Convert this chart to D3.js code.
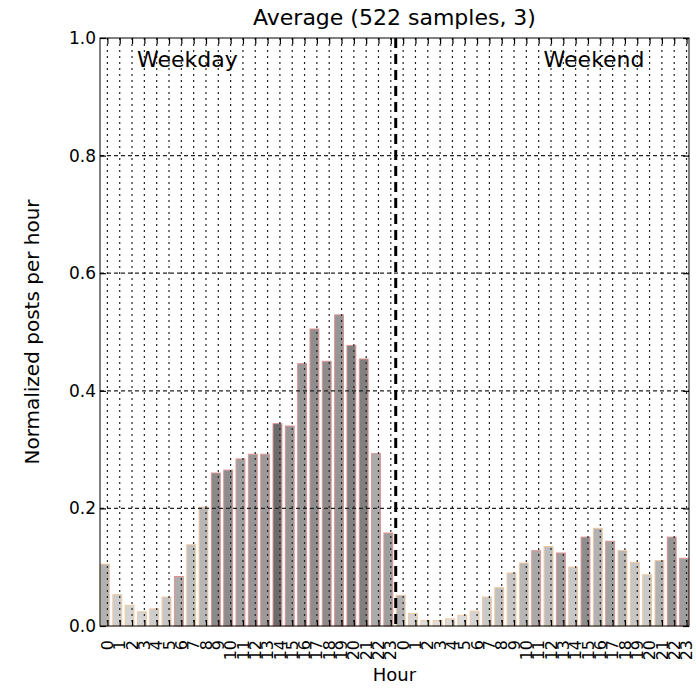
<!DOCTYPE html>
<html><head><meta charset="utf-8">
<script src="https://cdn.jsdelivr.net/npm/d3@7/dist/d3.min.js"></script>
<style>
body{margin:0;background:#fff}
text{font-family:"DejaVu Sans",sans-serif;fill:#000}
</style>
</head><body>
<svg id="chart" width="696" height="693"></svg>
<script>
// ---- data ----
const hourLabels = ["0","1","2","3","4","5","6","7","8","9","10","11","12","13","14","15","16","17","18","19","20","21","22","23"];
const weekdayValues = [0.106,0.054,0.036,0.025,0.030,0.050,0.085,0.139,0.203,0.261,0.266,0.285,0.293,0.293,0.345,0.341,0.447,0.506,0.451,0.530,0.478,0.455,0.294,0.159];
const weekendValues = [0.053,0.022,0.010,0.010,0.013,0.019,0.026,0.050,0.066,0.091,0.108,0.129,0.136,0.125,0.101,0.152,0.167,0.145,0.129,0.109,0.088,0.112,0.152,0.116];
const yTickValues = [0.0,0.2,0.4,0.6,0.8,1.0];
const panelLabels = ["Weekday","Weekend"];
const titleText = "Average (522 samples, 3)";
const xAxisLabel = "Hour";
const yAxisLabel = "Normalized posts per hour";
// grey level of each bar's fill (palette, weekday then weekend)
const weekdayGreys = [178,205,212,212,205,198,172,190,182,138,140,160,150,155,108,150,150,142,140,150,128,128,170,158];
const weekendGreys = [178,212,222,222,218,218,212,202,192,198,182,168,188,158,198,142,178,162,182,198,202,178,148,158];

// ---- layout ----
const svg = d3.select("#chart");
const L = 100, R = 689, T = 38, B = 626;
const nBars = weekdayValues.length + weekendValues.length;
const barW = 0.8, tickOff = 0.6;
const x = d3.scaleLinear().domain([0, nBars - 1 + barW]).range([L, R]);
const y = d3.scaleLinear().domain([0, 1]).range([B, T]);

const bars = weekdayValues.map((v, i) => ({v, i, g: weekdayGreys[i], lab: hourLabels[i]}))
  .concat(weekendValues.map((v, i) => ({v, i: i + weekdayValues.length, g: weekendGreys[i], lab: hourLabels[i]})));

const edgeOf = g => g < 175 ? "#dc9494" : "#ecc9a2";

// bars
svg.append("g").selectAll("rect").data(bars).join("rect")
  .attr("x", d => x(d.i) + 0.5)
  .attr("width", d => x(d.i + barW) - x(d.i) - 1)
  .attr("y", d => y(d.v) + 0.5)
  .attr("height", d => y(0) - y(d.v) - 0.5)
  .attr("fill", d => d3.rgb(d.g, d.g, d.g))
  .attr("stroke", d => edgeOf(d.g))
  .attr("stroke-width", 1);

// grid (drawn above bars)
const grid = svg.append("g");
grid.selectAll("line.v").data(bars).join("line")
  .attr("x1", d => x(d.i + tickOff)).attr("x2", d => x(d.i + tickOff))
  .attr("y1", T).attr("y2", B)
  .attr("stroke", "#222").attr("stroke-width", 1.2).attr("stroke-dasharray", "2,4");
grid.selectAll("line.h").data(yTickValues.slice(1, -1)).join("line")
  .attr("x1", L).attr("x2", R)
  .attr("y1", d => y(d)).attr("y2", d => y(d))
  .attr("stroke", "#222").attr("stroke-width", 1.2).attr("stroke-dasharray", "4,3");

// separator between weekday and weekend
svg.append("line")
  .attr("x1", x(weekdayValues.length)).attr("x2", x(weekdayValues.length))
  .attr("y1", T).attr("y2", B)
  .attr("stroke", "#000").attr("stroke-width", 3).attr("stroke-dasharray", "10,6");

// frame
svg.append("rect").attr("x", L).attr("y", T).attr("width", R - L).attr("height", B - T)
  .attr("fill", "none").attr("stroke", "#000").attr("stroke-width", 1);

// axes via d3
const xTicks = bars.map(d => d.i + tickOff);
const xAxisB = d3.axisBottom(x).tickValues(xTicks).tickSize(-6).tickFormat("");
const xAxisT = d3.axisTop(x).tickValues(xTicks).tickSize(-6).tickFormat("");
svg.append("g").attr("transform", `translate(0,${B})`).call(xAxisB).call(g => g.select(".domain").remove());
svg.append("g").attr("transform", `translate(0,${T})`).call(xAxisT).call(g => g.select(".domain").remove());
const yAxisL = d3.axisLeft(y).tickValues(yTickValues).tickSize(-6).tickFormat(d3.format(".1f")).tickPadding(4);
const yAxisR = d3.axisRight(y).tickValues(yTickValues).tickSize(-6).tickFormat("");
const gy = svg.append("g").attr("transform", `translate(${L},0)`).call(yAxisL);
gy.select(".domain").remove();
gy.selectAll("text").style("font-size", "17px").style("font-family", "DejaVu Sans").attr("fill", "#000");
svg.append("g").attr("transform", `translate(${R},0)`).call(yAxisR).call(g => g.select(".domain").remove());
svg.selectAll(".tick line").attr("stroke", "#000").attr("stroke-width", 1.2);

// x tick labels (rotated)
svg.append("g").selectAll("text").data(bars).join("text")
  .attr("transform", d => `translate(${x(d.i + tickOff)},${B + 14}) rotate(-90)`)
  .attr("text-anchor", "end").attr("dy", "0.35em")
  .style("font-size", "16px")
  .text(d => d.lab);

// panel labels
svg.append("g").selectAll("text").data(panelLabels).join("text")
  .attr("x", (d, k) => x(k === 0 ? 3 : 36))
  .attr("y", y(0.95))
  .style("font-size", "22px")
  .text(d => d);

// title & axis labels
svg.append("text").attr("x", (L + R) / 2).attr("y", 25).attr("text-anchor", "middle")
  .style("font-size", "22px").text(titleText);
svg.append("text").attr("x", (L + R) / 2).attr("y", 681).attr("text-anchor", "middle")
  .style("font-size", "18px").text(xAxisLabel);
svg.append("text").attr("transform", `translate(39,${(T + B) / 2}) rotate(-90)`).attr("text-anchor", "middle")
  .style("font-size", "20px").text(yAxisLabel);
</script>
</body></html>
